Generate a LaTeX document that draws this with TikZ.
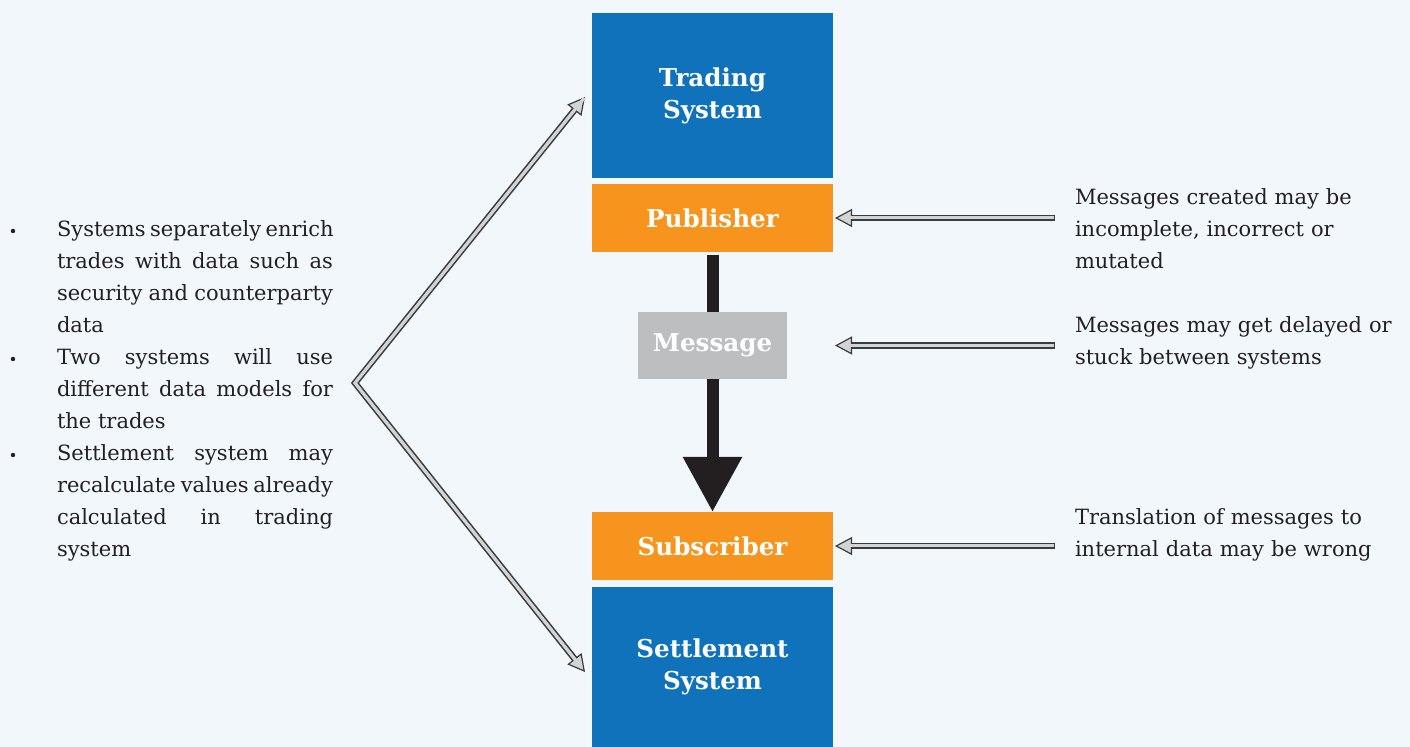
\documentclass[tikz,border=0pt]{standalone}
\usepackage{fontspec}
\setmainfont{DejaVu Serif}
\usetikzlibrary{arrows.meta}
\definecolor{bgcol}{HTML}{F2F7FB}
\definecolor{sysblue}{HTML}{0F72BA}
\definecolor{hookorange}{HTML}{F7941D}
\definecolor{msggray}{HTML}{BCBEC0}
\definecolor{inkdark}{HTML}{231F20}
\definecolor{arrowedge}{HTML}{3C3C3C}
\definecolor{arrowfill}{HTML}{D2D3D5}
\newcommand{\bodyfont}{\fontsize{10.5}{16}\selectfont\hyphenpenalty=10000}
\newcommand{\boxfont}{\fontsize{12.3}{16}\selectfont\bfseries}
\newcommand{\fullline}[1]{\makebox[138pt][s]{#1}}
\tikzstyle{sysbox}=[fill=sysblue, text=white, font=\boxfont, align=center, minimum width=120.5pt]
\tikzstyle{hookbox}=[fill=hookorange, text=white, font=\boxfont, minimum width=120.5pt, minimum height=34pt]
\tikzstyle{msgbox}=[fill=msggray, text=white, font=\boxfont, minimum width=74.5pt, minimum height=33.5pt]
\tikzstyle{flow}=[draw=inkdark, line width=6pt, -{Triangle[length=27.5pt, width=28pt]}, shorten <=1.5pt]
\tikzstyle{hollow}=[draw=arrowedge, line width=3.2pt,
                    % light core drawn over the dark edge
                    postaction={draw=arrowfill, line width=1.5pt, -, shorten >=7pt, shorten <=0.6pt}]
\tikzstyle{htip}=[-{Triangle[length=8.5pt, width=9pt, line width=0.6pt, fill=arrowfill]}]
\tikzstyle{item}=[font=\bodyfont, text=inkdark, text width=138pt, align=justify, anchor=north west]
\tikzstyle{note}=[font=\bodyfont, text=inkdark, text width=170pt, align=left, anchor=north west]
\tikzstyle{dot}=[circle, fill=inkdark, minimum size=2.2pt]

\begin{document}
\begin{tikzpicture}[x=0.5pt, y=-0.5pt, every node/.style={inner sep=0, outer sep=0}]
    \fill[bgcol] (0,0) rectangle (1410,747);
    \useasboundingbox (0,0) rectangle (1410,747);
    % central column
    \node[sysbox, minimum height=82.5pt] (trading) at (712.5,95.5) {Trading\\System};
    \node[hookbox] (publisher) at (712.5,218) {Publisher};
    \node[hookbox] (subscriber) at (712.5,546) {Subscriber};
    \node[sysbox, minimum height=80pt] (settlement) at (712.5,667) {Settlement\\System};
    \draw[flow] (publisher.south) -- (subscriber.north);
    \node[msgbox] (message) at (712.5,345.5) {Message};
    % left list
    \node[dot] (b1) at (13,231) {};
    \node[dot] (b2) at (13,359) {};
    \node[dot] (b3) at (13,455) {};
    \node[item] (item1) at (57,221) {\fullline{Systems separately enrich}\\\fullline{trades with data such as}\\\fullline{security and counterparty}\\data};
    \node[item] (item2) at (57,349) {\fullline{Two systems will use}\\\fullline{different data models for}\\the trades};
    \node[item] (item3) at (57,445) {\fullline{Settlement system may}\\\fullline{recalculate values already}\\\fullline{calculated in trading}\\system};
    \coordinate (fork) at (355,383);
    \draw[hollow, {Triangle[length=8.5pt, width=9pt, line width=0.6pt, fill=arrowfill]}-{Triangle[length=8.5pt, width=9pt, line width=0.6pt, fill=arrowfill]},
          postaction={draw=arrowfill, line width=1.5pt, -, shorten <=7pt, shorten >=7pt}]
        ([xshift=-3.5pt, yshift=-0.75pt]trading.west) -- (fork) -- ([xshift=-3.5pt, yshift=-2.5pt]settlement.west);
    % right notes
    \node[note] (note1) at (1075,189) {Messages created may be\\incomplete, incorrect or\\mutated};
    \node[note] (note2) at (1075,317) {Messages may get delayed or\\stuck between systems};
    \node[note] (note3) at (1075,509) {Translation of messages to\\internal data may be wrong};
    \draw[hollow, htip] ([xshift=-10pt]note1.west |- publisher.east) -- ([xshift=1pt]publisher.east);
    \draw[hollow, htip] ([xshift=-10pt]note2.west |- message.east) -- ([xshift=1pt]publisher.east |- message.east);
    \draw[hollow, htip] ([xshift=-10pt]note3.west |- subscriber.east) -- ([xshift=1pt]subscriber.east);
\end{tikzpicture}
\end{document}
